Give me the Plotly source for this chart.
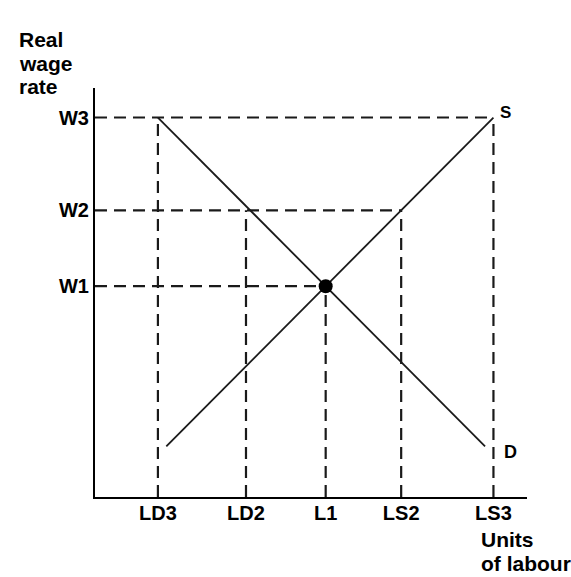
import plotly.graph_objects as go

# Labour market data (abstract units)
x_ticks = [1.5, 3.6, 5.5, 7.3, 9.5]
x_labels = ["LD3", "LD2", "L1", "LS2", "LS3"]
y_ticks = [5.0, 6.8, 9.0]
y_labels = ["W1", "W2", "W3"]

supply_x = [1.7, 9.5]
supply_y = [1.2, 9.0]
demand_x = [1.5, 9.3]
demand_y = [9.0, 1.2]

eq_x = [5.5]
eq_y = [5.0]

x_max = 10.3
y_max = 9.7

W1, W2, W3 = y_ticks
LD3, LD2, L1, LS2, LS3 = x_ticks

line_col = "#1a1a1a"
font_fam = "Liberation Sans, Arial, sans-serif"
dash_pat = "12px,7px"

fig = go.Figure()

# horizontal dashed guides
for yv, xend in [(W3, LS3), (W2, LS2), (W1, L1)]:
    fig.add_trace(go.Scatter(x=[0, xend], y=[yv, yv], mode="lines",
                             line=dict(color=line_col, width=2.2, dash=dash_pat),
                             hoverinfo="skip", showlegend=False))
# vertical dashed guides
for xv, ytop in [(LD3, W3), (LD2, W2), (L1, W1), (LS2, W2), (LS3, W3)]:
    fig.add_trace(go.Scatter(x=[xv, xv], y=[0, ytop], mode="lines",
                             line=dict(color=line_col, width=2.2, dash=dash_pat),
                             hoverinfo="skip", showlegend=False))

# supply & demand
fig.add_trace(go.Scatter(x=supply_x, y=supply_y, mode="lines",
                         line=dict(color=line_col, width=1.8), showlegend=False))
fig.add_trace(go.Scatter(x=demand_x, y=demand_y, mode="lines",
                         line=dict(color=line_col, width=1.8), showlegend=False))
# equilibrium point
fig.add_trace(go.Scatter(x=eq_x, y=eq_y, mode="markers",
                         marker=dict(color="black", size=14), showlegend=False))

lab_font = dict(family=font_fam, size=20, color="black")

fig.update_layout(
    width=571, height=577,
    margin=dict(l=95, r=44, t=88, b=80),
    plot_bgcolor="white", paper_bgcolor="white",
    xaxis=dict(range=[0, x_max], showgrid=False, zeroline=False,
               showline=True, linecolor="black", linewidth=2.2,
               tickvals=x_ticks, ticktext=["<b>%s</b>" % t for t in x_labels],
               ticks="", tickfont=lab_font, automargin=False,
               ticklabelstandoff=-3),
    yaxis=dict(range=[0, y_max], showgrid=False, zeroline=False,
               showline=True, linecolor="black", linewidth=2.2,
               tickvals=y_ticks, ticktext=["<b>%s</b>" % t for t in y_labels],
               ticks="", tickfont=lab_font, automargin=False),
    font=dict(family=font_fam),
)

title_font = dict(family=font_fam, size=21, color="black")
for txt, py in [("Real", 39), ("wage", 63), ("rate", 87)]:
    fig.add_annotation(xref="paper", yref="paper", x=(17 - 95) / 432, y=(497 - py) / 409,
                       xanchor="left", yanchor="middle", showarrow=False,
                       text="<b>%s</b>" % txt, font=title_font)
for txt, py in [("Units", 539), ("of labour", 563)]:
    fig.add_annotation(xref="paper", yref="paper", x=(479 - 95) / 432, y=(497 - py) / 409,
                       xanchor="left", yanchor="middle", showarrow=False,
                       text="<b>%s</b>" % txt, font=title_font)

fig.add_annotation(x=supply_x[-1], y=supply_y[-1], xanchor="center", yanchor="middle",
                   xshift=12, yshift=5, showarrow=False, text="<b>S</b>",
                   font=dict(family=font_fam, size=17, color="black"))
fig.add_annotation(x=9.9, y=1.07, xanchor="center", yanchor="middle",
                   showarrow=False, text="<b>D</b>",
                   font=dict(family=font_fam, size=18, color="black"))

fig.write_html("out.html", config={"displayModeBar": False},
               post_script="document.body.style.margin='0';document.body.style.overflow='hidden';")
